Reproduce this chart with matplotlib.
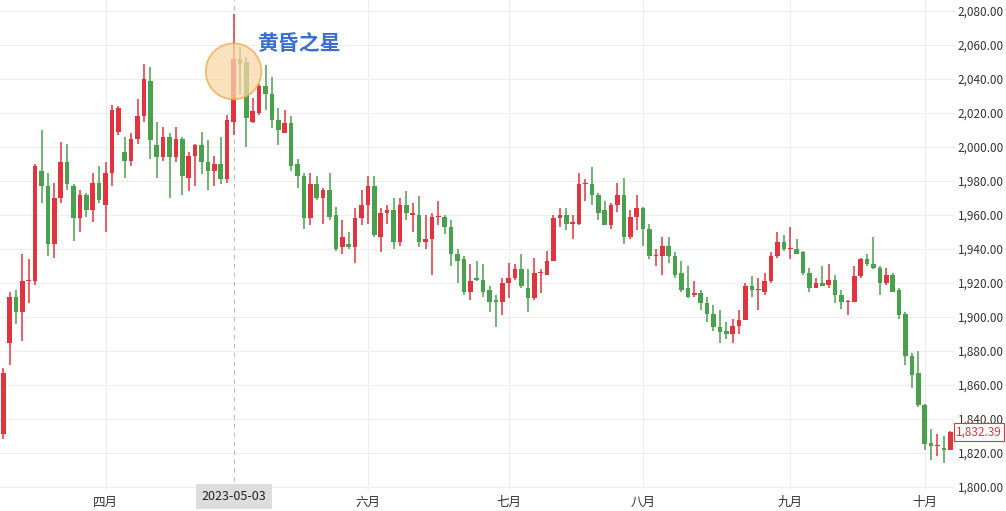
import matplotlib.pyplot as plt
from matplotlib.patches import Ellipse
import numpy as np

plt.rcParams['font.family'] = ['Noto Sans CJK SC', 'DejaVu Sans']

# 日K数据 (开, 高, 低, 收)
opens = [1831, 1885, 1912, 1903, 1921, 1921, 1986, 1977, 1943, 1970,
         1991, 1977, 1958, 1972, 1963, 1979, 1966, 1985, 2009, 1997,
         1992, 2005, 2018, 2039, 2001, 1994, 2006, 1994, 2005, 1982,
         1995, 2001, 1991, 1986, 1990, 1981, 2015, 2052, 2050, 2015,
         2020, 2036, 2031, 2016, 2008, 2014, 1990, 1983, 1958, 1978,
         1970, 1975, 1960, 1941, 1943, 1941, 1958, 1966, 1977, 1947,
         1961, 1963, 1944, 1966, 1960, 1960, 1944, 1946, 1959, 1959,
         1953, 1937, 1934, 1915, 1923, 1922, 1916, 1910, 1909, 1920,
         1923, 1928, 1917, 1911, 1926, 1925, 1933, 1958, 1960, 1955,
         1955, 1978, 1978, 1972, 1963, 1954, 1966, 1972, 1947, 1959,
         1964, 1952, 1936, 1936, 1942, 1936, 1926, 1917, 1913, 1914,
         1908, 1902, 1894, 1892, 1890, 1895, 1898, 1918, 1916, 1915,
         1921, 1936, 1944, 1940, 1940, 1938, 1926, 1917, 1920, 1919,
         1922, 1913, 1909, 1909, 1924, 1934, 1931, 1929, 1920, 1925,
         1916, 1902, 1877, 1867, 1848, 1826, 1824, 1823, 1822]
highs = [1870, 1915, 1916, 1937, 1934, 1990, 2010, 1985, 1979, 2003,
         2002, 1978, 1975, 1973, 1985, 1989, 1991, 2025, 2024, 2006,
         2008, 2028, 2049, 2047, 2015, 2012, 2008, 2012, 2006, 1997,
         2002, 2009, 2004, 1995, 2006, 2019, 2078, 2059, 2053, 2029,
         2037, 2048, 2041, 2023, 2022, 2018, 1993, 1985, 1985, 1983,
         1976, 1985, 1965, 1957, 1950, 1964, 1975, 1983, 1983, 1964,
         1966, 1970, 1970, 1974, 1967, 1971, 1960, 1961, 1968, 1960,
         1957, 1940, 1936, 1931, 1933, 1931, 1918, 1913, 1923, 1932,
         1931, 1937, 1928, 1935, 1928, 1939, 1960, 1964, 1964, 1960,
         1985, 1981, 1988, 1973, 1968, 1967, 1979, 1982, 1963, 1972,
         1965, 1955, 1940, 1947, 1947, 1938, 1933, 1930, 1921, 1916,
         1912, 1907, 1904, 1897, 1899, 1904, 1920, 1924, 1923, 1926,
         1938, 1950, 1948, 1953, 1946, 1939, 1929, 1923, 1930, 1931,
         1925, 1916, 1910, 1930, 1935, 1937, 1947, 1930, 1929, 1926,
         1917, 1903, 1879, 1880, 1849, 1834, 1831, 1830, 1833]
lows = [1828, 1872, 1896, 1886, 1908, 1919, 1967, 1936, 1935, 1967,
        1975, 1945, 1950, 1959, 1956, 1967, 1950, 1977, 2007, 1982,
        1989, 2002, 2015, 1993, 1982, 1992, 1970, 1991, 1972, 1974,
        1977, 1984, 1975, 1977, 1978, 1979, 2007, 2031, 2000, 2014,
        2019, 2022, 2011, 2001, 2008, 1986, 1976, 1952, 1954, 1969,
        1955, 1957, 1939, 1937, 1940, 1932, 1954, 1955, 1947, 1938,
        1955, 1940, 1942, 1957, 1950, 1941, 1940, 1925, 1954, 1949,
        1930, 1920, 1913, 1910, 1921, 1912, 1903, 1894, 1901, 1911,
        1922, 1917, 1903, 1910, 1914, 1925, 1933, 1953, 1951, 1946,
        1954, 1968, 1966, 1957, 1954, 1952, 1962, 1943, 1946, 1951,
        1942, 1934, 1930, 1925, 1932, 1923, 1915, 1911, 1912, 1904,
        1897, 1892, 1885, 1887, 1885, 1890, 1898, 1912, 1904, 1913,
        1920, 1935, 1939, 1934, 1937, 1925, 1915, 1917, 1918, 1917,
        1908, 1905, 1901, 1909, 1923, 1930, 1928, 1913, 1919, 1915,
        1899, 1872, 1858, 1847, 1822, 1816, 1818, 1814, 1822]
closes = [1867, 1912, 1903, 1921, 1921, 1989, 1977, 1943, 1970, 1991,
          1978, 1958, 1972, 1963, 1979, 1969, 1985, 2022, 2023, 1992,
          2005, 2018, 2040, 2004, 1994, 2006, 1994, 2005, 1983, 1995,
          2001, 1991, 1986, 1990, 1981, 2016, 2052, 2049, 2017, 2021,
          2036, 2031, 2016, 2010, 2014, 1989, 1983, 1958, 1978, 1970,
          1975, 1959, 1940, 1947, 1941, 1958, 1966, 1977, 1948, 1961,
          1963, 1944, 1966, 1961, 1961, 1944, 1946, 1959, 1959, 1953,
          1937, 1933, 1915, 1921, 1922, 1915, 1909, 1909, 1920, 1923,
          1928, 1918, 1911, 1926, 1926, 1933, 1958, 1960, 1955, 1956,
          1978, 1979, 1972, 1961, 1954, 1966, 1972, 1947, 1959, 1964,
          1952, 1936, 1936, 1942, 1936, 1925, 1916, 1912, 1914, 1908,
          1902, 1894, 1891, 1890, 1895, 1898, 1918, 1916, 1916, 1921,
          1936, 1944, 1940, 1940, 1937, 1926, 1917, 1920, 1918, 1922,
          1913, 1909, 1909, 1924, 1934, 1931, 1929, 1920, 1925, 1915,
          1901, 1877, 1866, 1848, 1825, 1824, 1824, 1822, 1832.39]

month_pos = [16, 57, 79, 100, 123, 144]
month_labels = ['四月', '六月', '七月', '八月', '九月', '十月']
yticks = list(range(1800, 2081, 20))
star_idx = 36
star_date = '2023-05-03'
last_price = 1832.39

up_c = '#e2343f'
dn_c = '#4aa14d'

fig = plt.figure(figsize=(10.06, 5.11), dpi=100)
ax = fig.add_axes([0.0, 0.041, 0.949, 0.959])

o = np.array(opens, float)
h = np.array(highs, float)
l = np.array(lows, float)
c = np.array(closes, float)
x = np.arange(len(o))
cols = [up_c if cc >= oo else dn_c for oo, cc in zip(o, c)]

ax.vlines(x, l, h, colors=cols, linewidth=1.1, zorder=3)
body = np.maximum(np.abs(c - o), 0.6)
ax.bar(x, body, bottom=np.minimum(o, c), width=0.72, color=cols, zorder=4)

ax.set_xlim(-0.5, 148.7)
ax.set_ylim(1798.2, 2086.5)

ax.set_yticks(yticks)
ax.set_xticks(month_pos)
ax.grid(True, color='#eeeeee', linewidth=0.8)
ax.set_axisbelow(True)
ax.yaxis.tick_right()
ax.set_yticklabels([f'{v:,.2f}' for v in yticks], fontsize=8.5, color='#333333')
ax.set_xticklabels(month_labels, fontsize=9, color='#333333')
ax.tick_params(length=0, pad=4)
ax.tick_params(axis='y', pad=2)
for s in ax.spines.values():
    s.set_visible(False)

# 黄昏之星标注
ax.axvline(star_idx, color='#bbbbbb', linestyle=(0, (4, 4)), linewidth=0.8, zorder=2)
ax.add_patch(Ellipse((star_idx, 2044.5), 8.7, 33, facecolor='#fbd7a8',
                     edgecolor='#f0a43c', alpha=0.75, linewidth=1.2, zorder=5))
ax.text(star_idx + 3.7, 2061, '黄昏之星', fontsize=15, color='#3a6fcf',
        fontweight='bold', va='center', ha='left', zorder=6)
ax.text(star_idx, 1798.2, star_date, transform=ax.transData, fontsize=9,
        color='#222222', ha='center', va='top', clip_on=False,
        bbox=dict(boxstyle='square,pad=0.45', fc='#dddddd', ec='none'))

ax.text(148.9, last_price, f'{last_price:,.2f}', fontsize=8.5, color=up_c,
        ha='left', va='center', clip_on=False,
        bbox=dict(boxstyle='square,pad=0.2', fc='white', ec=up_c, lw=0.8))

plt.savefig('out.png', dpi=100)
